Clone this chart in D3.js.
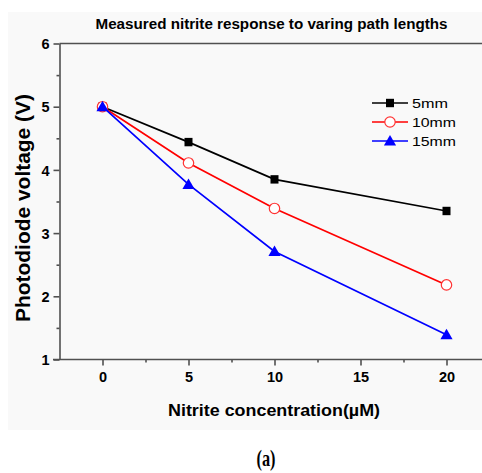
<!DOCTYPE html>
<html><head><meta charset="utf-8">
<script src="https://cdn.jsdelivr.net/npm/d3@7/dist/d3.min.js"></script>
<style>body{margin:0;background:#fff}svg{display:block}</style>
</head><body>
<script>
const concentrations = [0, 5, 10, 20];
const series5mm = [5.0, 4.44, 3.85, 3.35];
const series10mm = [5.0, 4.11, 3.39, 2.18];
const series15mm = [5.0, 3.77, 2.71, 1.39];
const seriesNames = ["5mm", "10mm", "15mm"];
const xTicks = [0, 5, 10, 15, 20];
const yTicks = [1, 2, 3, 4, 5, 6];

const W = 482, H = 473;
const FONT = "Liberation Sans, Arial, sans-serif";
const svg = d3.select("body").append("svg").attr("width", W).attr("height", H);
svg.append("rect").attr("x", 8).attr("y", 12).attr("width", W - 8).attr("height", 418).attr("fill", "#f9f9f9");

const x = d3.scaleLinear().domain([-2.5, 22.5]).range([59.5, 489.5]);
const y = d3.scaleLinear().domain([1, 6]).range([359.5, 43.5]);

const axisColor = "#505050";
svg.append("line").attr("x1", 59.5).attr("x2", W).attr("y1", y(6)).attr("y2", y(6)).attr("stroke", axisColor).attr("stroke-width", 1.6);

const gx = svg.append("g").attr("transform", `translate(0,${y(1)})`)
  .call(d3.axisBottom(x).tickValues(xTicks).tickSize(6).tickSizeOuter(0).tickFormat(d3.format("d")));
const gxm = svg.append("g").attr("transform", `translate(0,${y(1)})`)
  .call(d3.axisBottom(x).tickValues([2.5, 7.5, 12.5, 17.5, 22.5]).tickSize(3).tickFormat(""));
gxm.select(".domain").remove();
const gy = svg.append("g").attr("transform", `translate(59.5,0)`)
  .call(d3.axisLeft(y).tickValues(yTicks).tickSize(6).tickSizeOuter(0).tickFormat(d3.format("d")));
const gym = svg.append("g").attr("transform", `translate(59.5,0)`)
  .call(d3.axisLeft(y).tickValues([1.5, 2.5, 3.5, 4.5, 5.5]).tickSize(3).tickFormat(""));
gym.select(".domain").remove();
[gx, gy, gxm, gym].forEach(g => {
  g.selectAll("path,line").attr("stroke", axisColor).attr("stroke-width", 1.6);
  g.selectAll("text").attr("fill", "#000").style("font-family", FONT)
    .style("font-size", "14.5px").style("font-weight", "bold");
});
gx.select(".domain").attr("d", `M53,0H${W}`);
gx.selectAll("text").attr("dy", "0").attr("y", 22);
gy.selectAll("text").attr("x", -10).attr("dy", "0.36em");

function label(txt, size, len, weight) {
  return svg.append("text").attr("text-anchor", "middle")
    .style("font-family", FONT).style("font-size", size + "px").style("font-weight", weight)
    .attr("textLength", len).attr("lengthAdjust", "spacingAndGlyphs").text(txt);
}
label("Measured nitrite response to varing path lengths", 14.5, 352, "bold").attr("transform", "translate(271.5,29)");
label("Nitrite concentration(\u00b5M)", 16, 212, "bold").attr("transform", "translate(274,416)");
label("Photodiode voltage (V)", 19.5, 228, "bold").attr("transform", "translate(30,208) rotate(-90)");
svg.append("text").attr("x", 266).attr("y", 466).attr("text-anchor", "middle")
  .style("font-family", "Liberation Serif, DejaVu Serif, serif").style("font-size", "23px").style("font-weight", "bold")
  .attr("textLength", 19).attr("lengthAdjust", "spacingAndGlyphs")
  .text("(a)");

const allSeries = [series5mm, series10mm, series15mm];
const colors = ["#000000", "#ff0000", "#0000ff"];
const line = d3.line().x((d, i) => x(concentrations[i])).y(d => y(d));

function marker(g, k, cx, cy) {
  if (k === 0) g.append("rect").attr("x", cx - 4).attr("y", cy - 4.2).attr("width", 8).attr("height", 8.4).attr("fill", "#000");
  else if (k === 1) g.append("circle").attr("cx", cx).attr("cy", cy).attr("r", 5.2).attr("fill", "#fff").attr("stroke", "#ff3333").attr("stroke-width", 1.2);
  else g.append("path").attr("d", d3.symbol().type(d3.symbolTriangle).size(64)()).attr("transform", `translate(${cx},${cy + 1})`).attr("fill", "#0000ff");
}

[0, 1, 2].forEach(k => {
  svg.append("path").datum(allSeries[k]).attr("d", line).attr("fill", "none").attr("stroke", colors[k]).attr("stroke-width", 1.7);
});
[0, 1, 2].forEach(k => {
  const g = svg.append("g");
  allSeries[k].forEach((v, i) => marker(g, k, x(concentrations[i]), y(v)));
});

// legend
const ly = [103, 122, 141];
const lens = [36, 44, 44];
seriesNames.forEach((n, k) => {
  svg.append("line").attr("x1", 372).attr("x2", 408).attr("y1", ly[k]).attr("y2", ly[k]).attr("stroke", colors[k]).attr("stroke-width", 1.3);
  marker(svg.append("g"), k, 390, ly[k]);
  svg.append("text").attr("x", 412).attr("y", ly[k]).attr("dy", "0.36em")
    .style("font-family", FONT).style("font-size", "12.5px")
    .attr("textLength", lens[k]).attr("lengthAdjust", "spacingAndGlyphs").text(n);
});
</script>
</body></html>
